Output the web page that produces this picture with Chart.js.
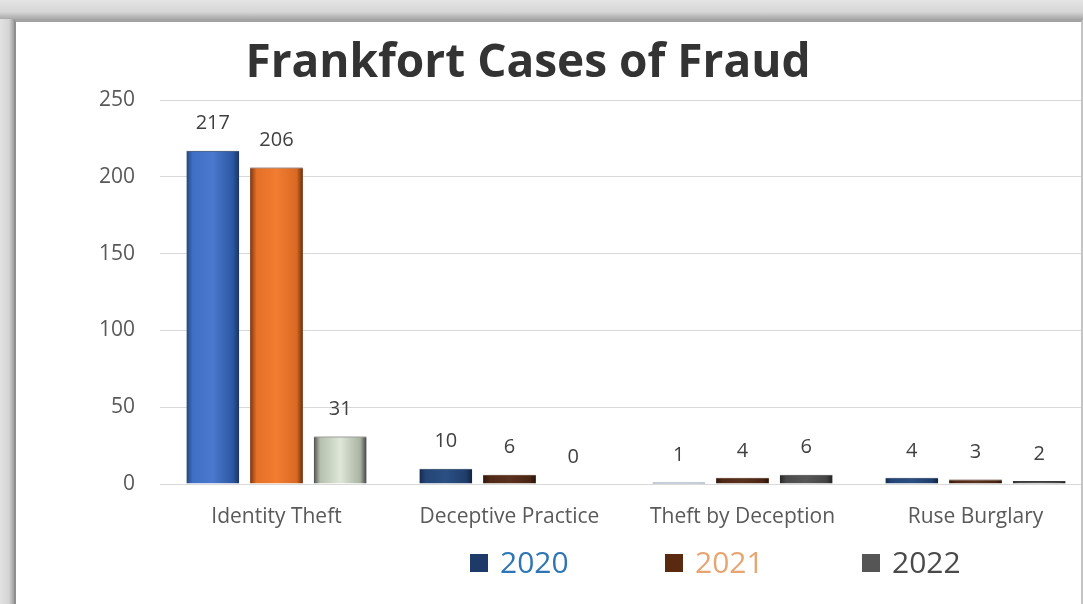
<!DOCTYPE html>
<html lang="en">
<head>
<meta charset="UTF-8">
<script src="https://cdn.jsdelivr.net/npm/chart.js@4/dist/chart.umd.min.js"></script>
<style>
	html, body { margin: 0; padding: 0; width: 1083px; height: 604px; overflow: hidden; }
	body { background: linear-gradient(#e4e4e4, #d6d6d6 12px, #a9a9a9 19px) top / 100% 19px no-repeat, linear-gradient(90deg, #e2e2e2, #d4d4d4 9px, #9e9e9e 14px) left / 14px 100% no-repeat; background-color: #ffffff; }
	#card { position: absolute; left: 14px; top: 19px; width: 1065px; height: 585px; background: #fff; border-left: 2px solid #8f8f8f; border-top: 3px solid #a3a3a3; border-right: 2px solid #c4c4c4; overflow: hidden; }
	#card canvas { position: absolute; left: 0; top: 0; }
</style>
</head>
<body>
<div id="card">
	<canvas id="fraud" width="1100" height="585" style="width:1100px;height:585px"></canvas>
</div>
<script>
// data
var categories = ['Identity Theft', 'Deceptive Practice', 'Theft by Deception', 'Ruse Burglary'];
var years = ['2020', '2021', '2022'];
var cases2020 = [217, 10, 1, 4];
var cases2021 = [206, 6, 4, 3];
var cases2022 = [31, 0, 6, 2];
var yTicks = [0, 50, 100, 150, 200, 250];
var chartTitle = 'Frankfort Cases of Fraud';

var FONT = "'Open Sans', 'DejaVu Sans', sans-serif";
var CAT_PCT = 0.82, BAR_PCT = 0.83;

// gradients: first category bright, the others dark
var brightStops = [
	['#22457f', '#3f70c6', '#4a78cc', '#2c57a2', '#193463'],
	['#7a3510', '#e46f26', '#f27d31', '#d96923', '#6a2d0e'],
	['#4d4d4d', '#b5bfae', '#dfe8d8', '#aab3a2', '#414141']
];
var darkStops = [
	['#142a4d', '#244677', '#2b4f83', '#1f3e6c', '#11233f'],
	['#2e160a', '#4f2816', '#5a311e', '#4a2514', '#2a1408'],
	['#262626', '#4a4a4a', '#575757', '#444444', '#222222']
];
var edgeColors = ['#1a3158', '#4a220c', '#3a3a3a'];
var legendSwatch = ['#1e3a68', '#5a2a10', '#555555'];
var legendText = ['#2e75b6', '#e8a572', '#4a4a4a'];

function barFill(ctx) {
	var chart = ctx.chart, d = ctx.datasetIndex, i = ctx.dataIndex;
	var stops = (i === 0 ? brightStops : darkStops)[d];
	var xs = chart.scales.x;
	if (!chart.chartArea || !xs || i === undefined) return stops[2];
	var catW = (xs.right - xs.left) / categories.length;
	var slot = catW * CAT_PCT / years.length;
	var c = xs.getPixelForValue(i) + (d - 1) * slot;
	var h = slot * BAR_PCT / 2;
	var g = chart.ctx.createLinearGradient(c - h, 0, c + h, 0);
	g.addColorStop(0, stops[0]);
	g.addColorStop(0.12, stops[1]);
	g.addColorStop(0.5, stops[2]);
	g.addColorStop(0.88, stops[3]);
	g.addColorStop(1, stops[4]);
	return g;
}

var decor = {
	id: 'decor',
	afterDatasetsDraw: function(chart) {
		var c = chart.ctx;
		c.save();
		// value labels
		c.font = '20px ' + FONT;
		c.fillStyle = '#404040';
		c.textAlign = 'center';
		c.textBaseline = 'middle';
		chart.data.datasets.forEach(function(ds, d) {
			chart.getDatasetMeta(d).data.forEach(function(bar, i) {
				c.fillText(ds.data[i], bar.x, bar.y - 27);
			});
		});
		// title
		c.font = 'bold 46px ' + FONT;
		c.fillStyle = '#333333';
		c.fillText(chartTitle, 512, 42);
		// legend
		var lx = [454, 649, 846], ly = 541;
		c.font = '30px ' + FONT;
		c.textAlign = 'left';
		years.forEach(function(y, k) {
			c.fillStyle = legendSwatch[k];
			c.fillRect(lx[k], ly - 9, 18, 18);
			c.fillStyle = legendText[k];
			c.fillText(y, lx[k] + 30, ly + 1);
		});
		c.restore();
	}
};

new Chart(document.getElementById('fraud').getContext('2d'), {
	type: 'bar',
	data: {
		labels: categories,
		datasets: [
			{ label: years[0], data: cases2020, backgroundColor: barFill, borderColor: edgeColors[0] },
			{ label: years[1], data: cases2021, backgroundColor: barFill, borderColor: edgeColors[1] },
			{ label: years[2], data: cases2022, backgroundColor: barFill, borderColor: edgeColors[2] }
		]
	},
	options: {
		responsive: false,
		animation: false,
		datasets: {
			bar: { categoryPercentage: CAT_PCT, barPercentage: BAR_PCT, borderWidth: { top: 1, left: 0, right: 0, bottom: 0 } }
		},
		layout: { padding: { top: 78, right: 24, left: 0, bottom: 0 } },
		plugins: {
			colors: { enabled: false },
			legend: { display: false },
			title: { display: false },
			tooltip: { enabled: false }
		},
		scales: {
			x: {
				afterFit: function(s) { s.height = 123; },
				grid: { display: false, drawTicks: false },
				border: { color: '#d9d9d9' },
				ticks: { padding: 20, color: '#595959', font: { family: FONT, size: 21 } }
			},
			y: {
				min: 0,
				max: 250,
				afterFit: function(s) { s.width = 144; },
				afterBuildTicks: function(s) { s.ticks = yTicks.map(function(v) { return { value: v }; }); },
				grid: { color: '#d9d9d9', drawTicks: false },
				border: { display: false },
				ticks: { padding: 25, color: '#595959', font: { family: FONT, size: 21 } }
			}
		}
	},
	plugins: [decor]
});
</script>
</body>
</html>
